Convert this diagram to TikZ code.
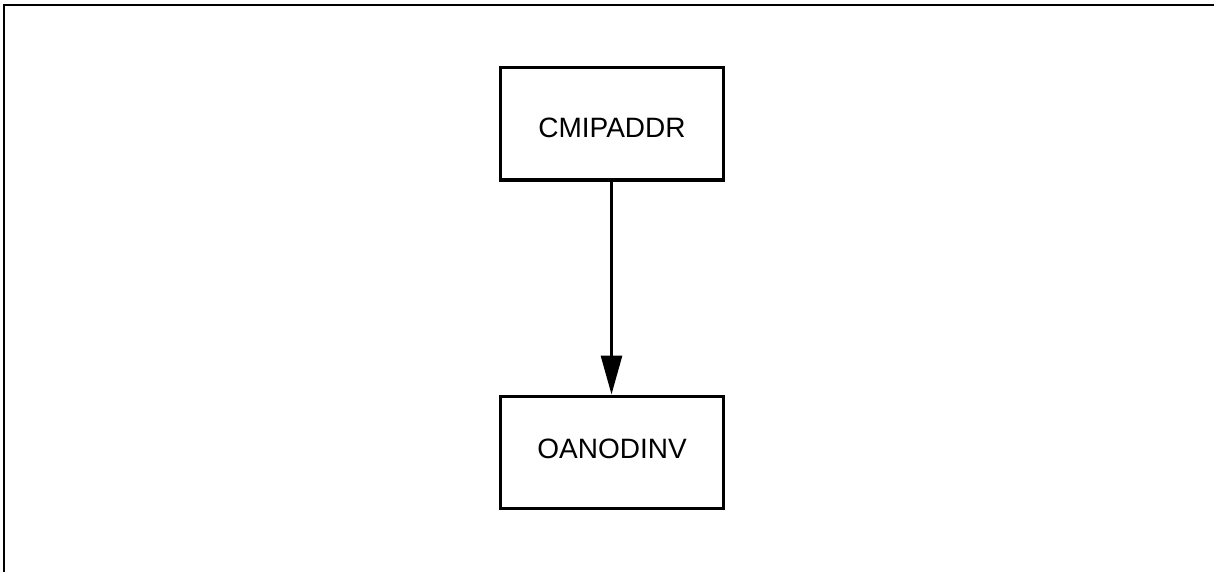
\documentclass[tikz,border=0pt]{standalone}
\usepackage{fontspec}
\setmainfont{Liberation Sans}
\usetikzlibrary{arrows.meta}
\begin{document}
\begin{tikzpicture}[x=1pt,y=-1pt,
  box/.style={draw=black,line width=3pt,minimum width=223pt,minimum height=112pt,inner sep=0pt},
  lbl/.style={inner sep=0pt,font=\fontsize{28}{34}\selectfont},
  conn/.style={line width=3pt,-{Triangle[length=39pt,width=21pt]}}]
\useasboundingbox (0,0) rectangle (1214,572);
\coordinate (tl) at (4,5);
\coordinate (bl) at (4,572);
\coordinate (tr) at (1214,5);
\draw[line width=2.8pt] (bl) -- (tl) -- (tr);
\node[box] (a) at (611.5,124) {};
\node[box] (b) at (611.5,452) {};
\node[lbl] (at) at (612,128) {CMIPADDR};
\node[lbl] (bt) at (612,448.5) {OANODINV};
\draw[conn] (a.south) -- (b.north);
\end{tikzpicture}
\end{document}
